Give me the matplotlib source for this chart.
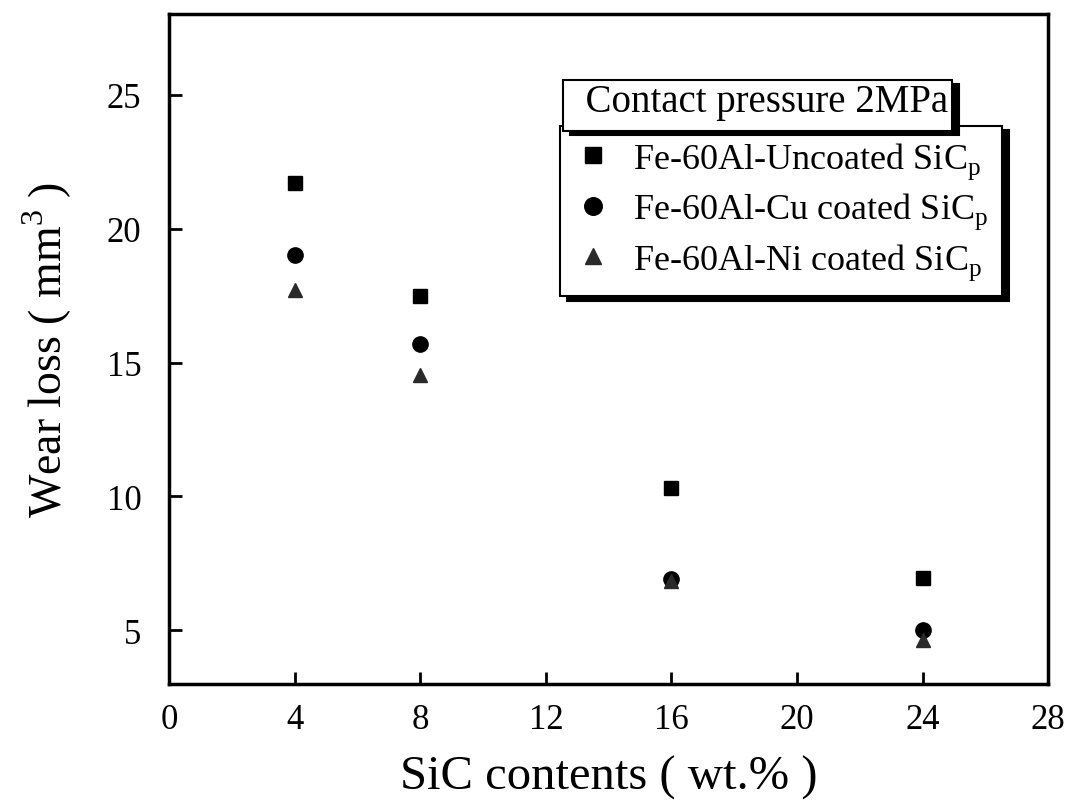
import matplotlib.pyplot as plt

plt.rcParams['font.family'] = ['Liberation Serif', 'DejaVu Serif']
plt.rcParams['mathtext.fontset'] = 'custom'
plt.rcParams['mathtext.rm'] = 'Liberation Serif'

# wear loss vs SiC content, one series per particle coating
sic_content = [4, 8, 16, 24]
uncoated = [21.7, 17.5, 10.3, 6.95]
cu_coated = [19.0, 15.7, 6.9, 5.0]
ni_coated = [17.7, 14.55, 6.85, 4.65]

labels = ['Fe-60Al-Uncoated SiC$_\\mathregular{p}$',
          'Fe-60Al-Cu coated SiC$_\\mathregular{p}$',
          'Fe-60Al-Ni coated SiC$_\\mathregular{p}$']
x_ticks = [0, 4, 8, 12, 16, 20, 24, 28]
y_ticks = [5, 10, 15, 20, 25]

fig = plt.figure(figsize=(10.84, 8.03), dpi=100)
ax = fig.add_axes([0.156, 0.147, 0.811, 0.834])

h1, = ax.plot(sic_content, uncoated, 's', color='black', ms=10)
h2, = ax.plot(sic_content, cu_coated, 'o', color='black', ms=11)
h3, = ax.plot(sic_content, ni_coated, '^', color='#2a2a2a', ms=10)

ax.set_xlim(0, 28)
ax.set_ylim(3, 28)
ax.set_xticks(x_ticks)
ax.set_yticks(y_ticks)
ax.tick_params(direction='in', length=9, width=2, labelsize=25)
ax.tick_params(axis='x', pad=14)
ax.tick_params(axis='y', pad=20)
for s in ax.spines.values():
    s.set_linewidth(2.5)

ax.set_xlabel('SiC contents ( wt.% )', fontsize=35)
ax.set_ylabel('Wear loss ( mm$^\\mathregular{3}$ )', fontsize=33)
ax.xaxis.set_label_coords(0.5, -0.105)
ax.yaxis.set_label_coords(-0.108, 0.5)

shadow = {'ox': 5, 'oy': -3, 'facecolor': 'black', 'edgecolor': 'black', 'alpha': 1}

leg = ax.legend([h1, h2, h3], labels, loc='upper left', bbox_to_anchor=(0.445, 0.833),
                borderaxespad=0, fontsize=26, frameon=True, fancybox=False,
                framealpha=1, facecolor='white', edgecolor='black', shadow=shadow,
                handletextpad=0.6, borderpad=0.4, labelspacing=0.28,
                handlelength=1.0, markerscale=1.15)
leg.get_frame().set_linewidth(1.5)
ax.add_artist(leg)

# condition label drawn as an empty legend so it gets the same frame and shadow
cond = ax.legend([], [], title='  Contact pressure 2MPa', title_fontsize=28,
                 loc='lower left', bbox_to_anchor=(0.448, 0.826), borderaxespad=0,
                 frameon=True, fancybox=False, framealpha=1, facecolor='white',
                 edgecolor='black', shadow=shadow, borderpad=0.25)
cond.get_frame().set_linewidth(1.5)
cond.set_zorder(6)

fig.savefig('out.png', dpi=100)
